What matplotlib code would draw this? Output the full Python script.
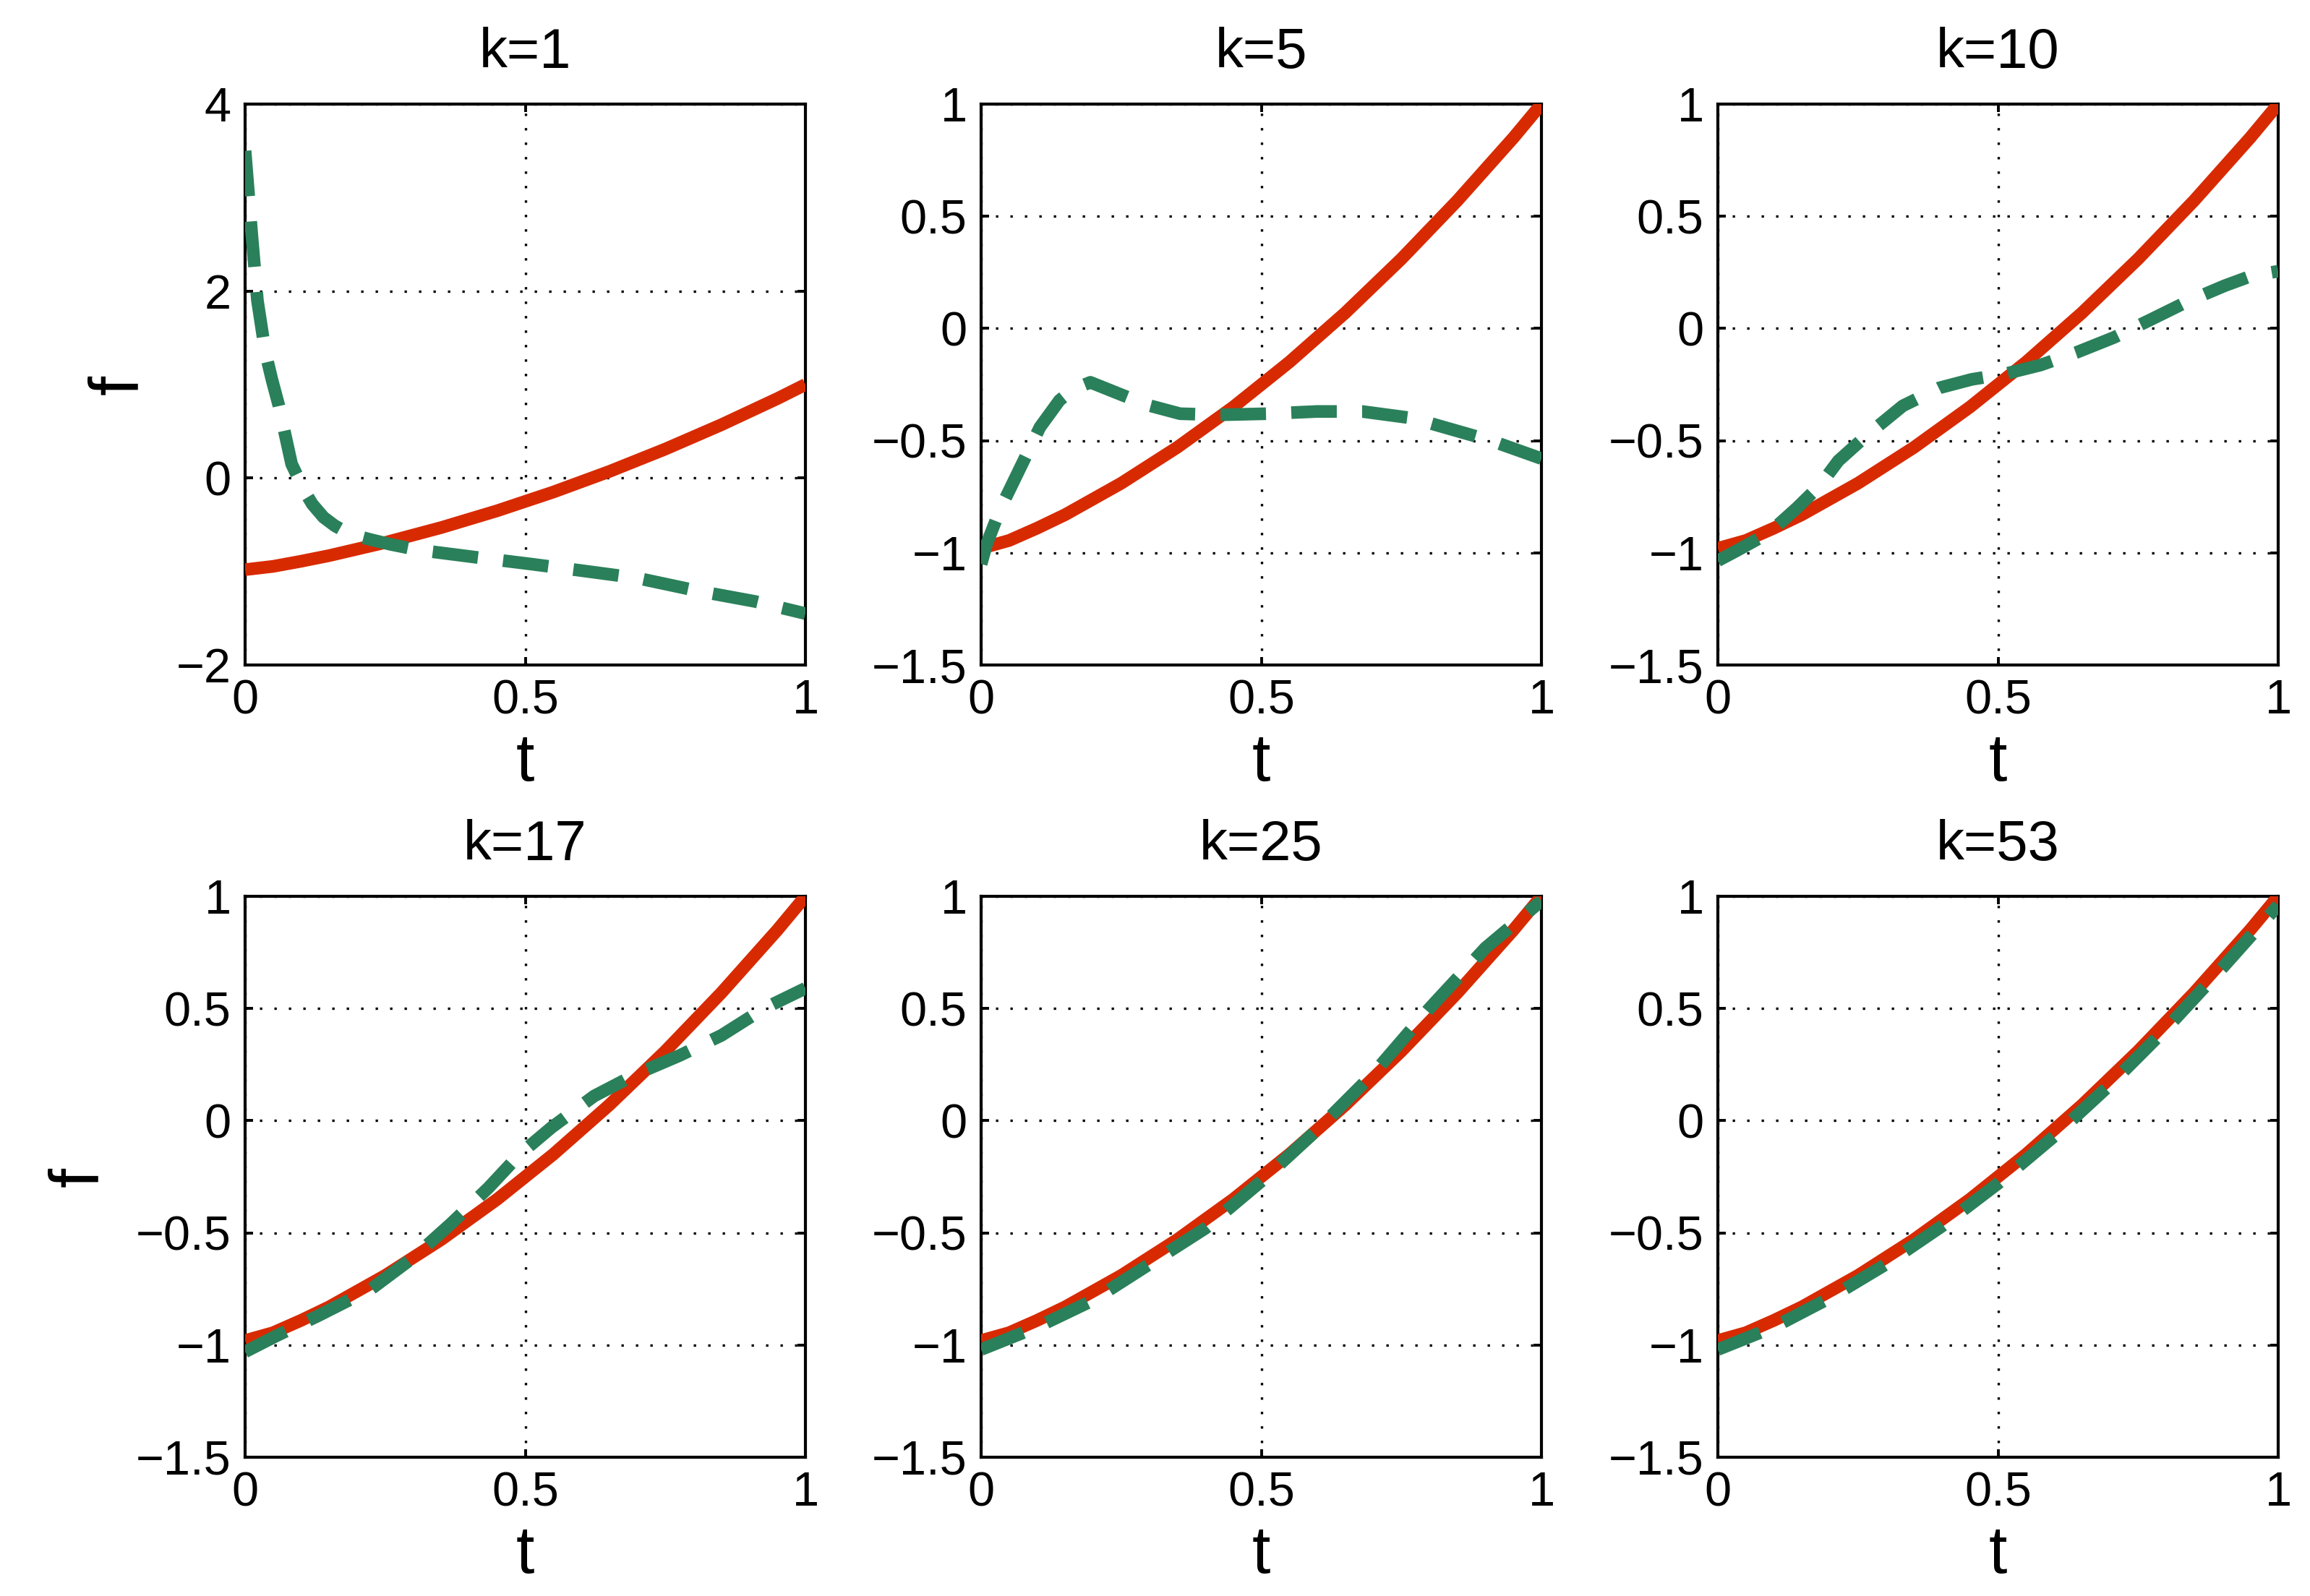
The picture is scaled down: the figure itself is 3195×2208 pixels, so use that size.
import matplotlib
matplotlib.use('Agg')
import matplotlib.pyplot as plt
from matplotlib.ticker import FixedLocator, FuncFormatter

plt.rcParams['font.family'] = ['Liberation Sans', 'DejaVu Sans']
plt.rcParams['axes.unicode_minus'] = True

# exact function (red, solid)
t_red = [0, 0.05, 0.1, 0.15, 0.2, 0.25, 0.3, 0.35, 0.4, 0.45, 0.5,
         0.55, 0.6, 0.65, 0.7, 0.75, 0.8, 0.85, 0.9, 0.95, 1.0]
f_red = [-0.98, -0.945, -0.89, -0.83, -0.76, -0.69, -0.61, -0.53, -0.44, -0.35, -0.25,
         -0.15, -0.04, 0.07, 0.19, 0.31, 0.44, 0.57, 0.71, 0.85, 1.0]

# approximations (green, dashed), one per k
t_k1 = [0, 0.012, 0.022, 0.036, 0.048, 0.06, 0.072, 0.083, 0.095, 0.107, 0.12,
        0.14, 0.16, 0.178, 0.2, 0.225, 0.26, 0.31, 0.415, 0.51, 0.60, 0.70,
        0.81, 0.91, 1.0]
f_k1 = [3.5, 2.6, 1.9, 1.35, 1.05, 0.78, 0.45, 0.15, 0.0, -0.15, -0.28,
        -0.42, -0.51, -0.57, -0.62, -0.66, -0.71, -0.77, -0.85, -0.92, -0.99, -1.07,
        -1.21, -1.32, -1.45]

t_k5 = [0, 0.01, 0.035, 0.07, 0.105, 0.14, 0.165, 0.195, 0.235, 0.295, 0.355,
        0.425, 0.51, 0.6, 0.68, 0.77, 0.84, 0.91, 1.0]
f_k5 = [-1.05, -0.96, -0.8, -0.62, -0.44, -0.32, -0.27, -0.24, -0.28, -0.34, -0.38,
        -0.385, -0.38, -0.37, -0.37, -0.40, -0.45, -0.50, -0.58]

t_k10 = [0, 0.034, 0.092, 0.141, 0.182, 0.215, 0.264, 0.33, 0.395, 0.453, 0.51,
         0.576, 0.64, 0.707, 0.773, 0.838, 0.904, 0.953, 1.0]
f_k10 = [-1.035, -0.99, -0.91, -0.80, -0.70, -0.59, -0.48, -0.345, -0.265, -0.227, -0.204,
         -0.163, -0.107, -0.04, 0.04, 0.12, 0.19, 0.235, 0.255]

t_k17 = [0, 0.055, 0.13, 0.225, 0.30, 0.367, 0.434, 0.49, 0.547, 0.623, 0.70,
         0.775, 0.85, 0.926, 1.0]
f_k17 = [-1.03, -0.96, -0.87, -0.75, -0.61, -0.46, -0.30, -0.15, -0.03, 0.11, 0.21,
         0.29, 0.38, 0.50, 0.59]

t_k25 = [0, 0.1, 0.2, 0.3, 0.4, 0.5, 0.6, 0.7, 0.8, 0.9, 1.0]
f_k25 = [-1.02, -0.92, -0.80, -0.64, -0.48, -0.27, -0.04, 0.21, 0.50, 0.77, 0.98]

t_k53 = [0, 0.1, 0.2, 0.3, 0.4, 0.5, 0.6, 0.7, 0.8, 0.9, 1.0]
f_k53 = [-1.02, -0.92, -0.79, -0.64, -0.47, -0.28, -0.07, 0.16, 0.41, 0.68, 0.96]

titles = ['k=1', 'k=5', 'k=10', 'k=17', 'k=25', 'k=53']
approx = [(t_k1, f_k1), (t_k5, f_k5), (t_k10, f_k10),
          (t_k17, f_k17), (t_k25, f_k25), (t_k53, f_k53)]
xticks = [0, 0.5, 1]
yticks_first = [-2, 0, 2, 4]
yticks_rest = [-1.5, -1, -0.5, 0, 0.5, 1]

RED = '#d82a00'
GREEN = '#2a805a'

W, H = 3195, 2208
fig = plt.figure(figsize=(W / 200, H / 200), dpi=200)

lefts = [339, 1357, 2376]
tops = [144, 1240]
aw, ah = 775, 776


def fmt(v, pos):
    s = '%g' % v
    return s.replace('-', '\u2212')


for i in range(6):
    r, c = divmod(i, 3)
    x0 = lefts[c] / W
    y0 = 1 - (tops[r] + ah) / H
    ax = fig.add_axes([x0, y0, aw / W, ah / H])

    ax.plot(t_red, f_red, color=RED, lw=6.3, solid_capstyle='butt', zorder=3)
    tg, fg = approx[i]
    ln, = ax.plot(tg, fg, color=GREEN, lw=6.3, dash_capstyle='butt', zorder=4)
    ln.set_dashes((3.6, 2.0))

    ax.set_xlim(0, 1)
    if i == 0:
        ax.set_ylim(-2, 4)
        ax.yaxis.set_major_locator(FixedLocator(yticks_first))
    else:
        ax.set_ylim(-1.5, 1)
        ax.yaxis.set_major_locator(FixedLocator(yticks_rest))
    ax.xaxis.set_major_locator(FixedLocator(xticks))
    ax.xaxis.set_major_formatter(FuncFormatter(fmt))
    ax.yaxis.set_major_formatter(FuncFormatter(fmt))

    ax.grid(True, color='black', linestyle=(0, (1, 5)), linewidth=1.2)
    ax.tick_params(direction='in', length=4, width=1.4, labelsize=24, pad=7,
                   top=True, right=True)
    for sp in ax.spines.values():
        sp.set_linewidth(1.5)

    ax.set_title(titles[i], fontsize=28, pad=18)
    ax.set_xlabel('t', fontsize=33, labelpad=4)
    if c == 0:
        ax.set_ylabel('f', fontsize=35, labelpad=12)

fig.savefig('out.png', dpi=200, facecolor='white')
